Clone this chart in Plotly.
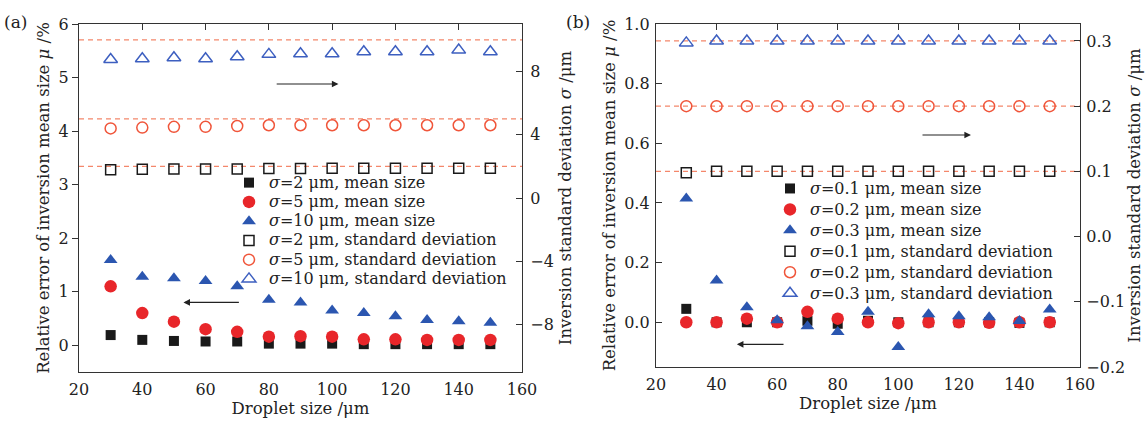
import plotly.graph_objects as go

# ---------------- data ----------------
droplet_size = [30, 40, 50, 60, 70, 80, 90, 100, 110, 120, 130, 140, 150]

# panel (a): sigma = 2, 5, 10 um
a_labels = ["2", "5", "10"]
a_mean_err_s2 = [0.19, 0.10, 0.08, 0.07, 0.07, 0.03, 0.03, 0.03, 0.02, 0.02, 0.02, 0.02, 0.02]
a_mean_err_s5 = [1.10, 0.60, 0.44, 0.30, 0.25, 0.16, 0.17, 0.16, 0.11, 0.11, 0.10, 0.10, 0.10]
a_mean_err_s10 = [1.59, 1.28, 1.25, 1.20, 1.10, 0.85, 0.80, 0.65, 0.60, 0.54, 0.47, 0.45, 0.42]
a_std_s2 = [1.78, 1.82, 1.84, 1.84, 1.84, 1.86, 1.86, 1.88, 1.88, 1.88, 1.88, 1.88, 1.88]
a_std_s5 = [4.40, 4.45, 4.50, 4.50, 4.55, 4.60, 4.60, 4.60, 4.60, 4.60, 4.60, 4.60, 4.60]
a_std_s10 = [8.76, 8.80, 8.87, 8.80, 8.93, 9.08, 9.12, 9.12, 9.25, 9.25, 9.25, 9.35, 9.25]
a_true_sigma = [2, 5, 10]

# panel (b): sigma = 0.1, 0.2, 0.3 um
b_labels = ["0.1", "0.2", "0.3"]
b_mean_err_s01 = [0.045, 0.0, 0.0, 0.0, 0.005, -0.005, 0.005, 0.0, 0.0, 0.0, 0.0, -0.002, 0.0]
b_mean_err_s02 = [0.0, 0.0, 0.012, 0.0, 0.035, 0.012, 0.0, -0.003, 0.0, 0.0, -0.002, 0.0, 0.0]
b_mean_err_s03 = [0.415, 0.14, 0.05, 0.007, -0.013, -0.033, 0.035, -0.083, 0.027, 0.02, 0.017, 0.004, 0.043]
b_std_s01 = [0.098, 0.100, 0.100, 0.100, 0.100, 0.100, 0.100, 0.100, 0.100, 0.100, 0.100, 0.100, 0.100]
b_std_s02 = [0.200, 0.200, 0.200, 0.200, 0.200, 0.200, 0.200, 0.200, 0.200, 0.200, 0.200, 0.200, 0.200]
b_std_s03 = [0.297, 0.300, 0.300, 0.300, 0.300, 0.300, 0.300, 0.300, 0.300, 0.300, 0.300, 0.300, 0.300]
b_true_sigma = [0.1, 0.2, 0.3]

x_ticks = [20, 40, 60, 80, 100, 120, 140, 160]
a_left_ticks = [0, 1, 2, 3, 4, 5, 6]
a_right_ticks = [-8, -4, 0, 4, 8]
b_left_ticks = [0.0, 0.2, 0.4, 0.6, 0.8, 1.0]
b_right_ticks = [-0.2, -0.1, 0.0, 0.1, 0.2, 0.3]

# ---------------- layout geometry (pixels) ----------------
W, H = 1145, 422
ML, MR, MT, MB = 79, 65, 24, 50
PW = W - ML - MR
PH = H - MT - MB


def px_x(p):
    return (p - ML) / PW


def px_y(p):
    return (H - MB - p) / PH


FONT = "DejaVu Serif"
BLACK = "#1a1a1a"
RED = "#e8262a"
BLUE = "#2b56b0"
RED_O = "#f0553a"
BLUE_O = "#3d5fc0"
REFLINE = "#f4876b"
TXT = "#222"
LEG_TXT = 16  # rendered size of legend text


def leg_name(s):
    return f'<span style="font-size:{LEG_TXT}px">{s}</span>'


fig = go.Figure()


def add_panel(xa, ya_l, ya_r, legend, labels, means, stds):
    fills = [("square", BLACK, 10), ("circle", RED, 12.5), ("triangle-up", BLUE, 12)]
    opens = [("square-open", BLACK, 10), ("circle-open", RED_O, 11), ("triangle-up-open", BLUE_O, 12)]
    for lab, vals, (sym, col, sz) in zip(labels, means, fills):
        fig.add_trace(go.Scatter(
            x=droplet_size, y=vals, mode="markers", xaxis=xa, yaxis=ya_l,
            marker=dict(symbol=sym, color=col, size=sz, line=dict(width=0)),
            name=leg_name(f"<i>σ</i>={lab} μm, mean size"), legend=legend))
    for lab, vals, (sym, col, sz) in zip(labels, stds, opens):
        fig.add_trace(go.Scatter(
            x=droplet_size, y=vals, mode="markers", xaxis=xa, yaxis=ya_r,
            marker=dict(symbol=sym, color=col, size=sz, line=dict(width=1.5, color=col)),
            name=leg_name(f"<i>σ</i>={lab} μm, standard deviation"), legend=legend))


add_panel("x", "y", "y2", "legend", a_labels,
          [a_mean_err_s2, a_mean_err_s5, a_mean_err_s10],
          [a_std_s2, a_std_s5, a_std_s10])
add_panel("x2", "y3", "y4", "legend2", b_labels,
          [b_mean_err_s01, b_mean_err_s02, b_mean_err_s03],
          [b_std_s01, b_std_s02, b_std_s03])

tickfont = dict(family=FONT, size=16, color=TXT)
titlefont = dict(family=FONT, size=16.5, color=TXT)

dom_a = [0, px_x(522)]
dom_b = [px_x(656), 1]

common_x = dict(range=[20, 160], tickvals=x_ticks, showgrid=False, zeroline=False,
                showline=True, linecolor="#333", linewidth=1.3, mirror=True,
                ticks="", tickfont=tickfont, title_font=titlefont,
                ticklabelstandoff=3, title_standoff=1)

axline = dict(showgrid=False, zeroline=False, showline=True, linecolor="#333",
              linewidth=1.3, ticklen=6, tickcolor="#333", tickfont=tickfont,
              title_font=titlefont)

fig.update_layout(
    width=W, height=H,
    margin=dict(l=ML, r=MR, t=MT, b=MB, autoexpand=False),
    paper_bgcolor="white", plot_bgcolor="white",
    font=dict(family=FONT, size=15, color=TXT),
    xaxis=dict(domain=dom_a, anchor="y", title_text="Droplet size /μm", **common_x),
    xaxis2=dict(domain=dom_b, anchor="y3", title_text="Droplet size /μm", **common_x),
    # top mirrored ticks
    xaxis3=dict(domain=dom_a, overlaying="x", side="top", range=[20, 160], tickvals=x_ticks,
                ticks="inside", ticklen=6, tickcolor="#333", showticklabels=False,
                showgrid=False, zeroline=False, showline=False, anchor="y"),
    xaxis4=dict(domain=dom_b, overlaying="x2", side="top", range=[20, 160], tickvals=x_ticks,
                ticks="inside", ticklen=6, tickcolor="#333", showticklabels=False,
                showgrid=False, zeroline=False, showline=False, anchor="y3"),
    yaxis=dict(domain=[0, 1], anchor="x", range=[-0.5, 6], tickvals=a_left_ticks,
               ticks="outside",
               title_text="Relative error of inversion mean size <i>μ</i> /%",
               title_standoff=4, **axline),
    yaxis2=dict(domain=[0, 1], anchor="x", overlaying="y", side="right", range=[-11, 11],
                tickvals=a_right_ticks, ticks="inside", ticklabelstandoff=4,
                title_text="Inversion standard deviation <i>σ</i> /μm",
                title_standoff=6, **axline),
    yaxis3=dict(domain=[px_y(367), 1], anchor="x2", range=[-0.15, 1.0], tickvals=b_left_ticks,
                tickformat=".1f", ticks="inside", ticklabelstandoff=2,
                title_text="Relative error of inversion mean size <i>μ</i> /%",
                title_standoff=4, **axline),
    yaxis4=dict(domain=[px_y(367), 1], anchor="x2", overlaying="y3", side="right",
                range=[-0.2, 0.326], tickvals=b_right_ticks, tickformat=".1f",
                ticks="inside", ticklabelstandoff=2,
                title_text="Inversion standard deviation <i>σ</i> /μm",
                title_standoff=4, **axline),
    legend=dict(x=px_x(229), y=px_y(168), xanchor="left", yanchor="top",
                bgcolor="rgba(0,0,0,0)", font=dict(family=FONT, size=12.5, color=TXT),
                tracegroupgap=0, itemwidth=30),
    legend2=dict(x=px_x(770), y=px_y(173), xanchor="left", yanchor="top",
                 bgcolor="rgba(0,0,0,0)", font=dict(family=FONT, size=13.8, color=TXT),
                 tracegroupgap=0, itemwidth=30),
    showlegend=True,
)

# empty traces so the top tick axes are drawn
fig.add_trace(go.Scatter(x=[], y=[], xaxis="x3", yaxis="y", showlegend=False, hoverinfo="skip"))
fig.add_trace(go.Scatter(x=[], y=[], xaxis="x4", yaxis="y3", showlegend=False, hoverinfo="skip"))

# dashed reference lines at the true sigma values
for v in a_true_sigma:
    fig.add_shape(type="line", xref="x domain", yref="y2", x0=0, x1=1, y0=v, y1=v,
                  line=dict(color=REFLINE, width=1.3, dash="5px,4px"), layer="below")
for v in b_true_sigma:
    fig.add_shape(type="line", xref="x2 domain", yref="y4", x0=0, x1=1, y0=v, y1=v,
                  line=dict(color=REFLINE, width=1.3, dash="5px,4px"), layer="below")

# arrows indicating which axis each series uses
arrow = dict(showarrow=True, arrowhead=2, arrowsize=1.2, arrowwidth=1.1,
             arrowcolor=TXT, text="")
fig.add_annotation(x=53, y=0.8, ax=71, ay=0.8, xref="x", yref="y", axref="x", ayref="y", **arrow)
fig.add_annotation(x=102, y=4.88, ax=82, ay=4.88, xref="x", yref="y", axref="x", ayref="y", **arrow)
fig.add_annotation(x=46.7, y=-0.074, ax=62.6, ay=-0.074, xref="x2", yref="y3", axref="x2", ayref="y3", **arrow)
fig.add_annotation(x=124, y=0.628, ax=107.5, ay=0.628, xref="x2", yref="y3", axref="x2", ayref="y3", **arrow)

# panel labels
fig.add_annotation(x=px_x(16), y=px_y(22), xref="paper", yref="paper", text="(a)",
                   xanchor="center", yanchor="middle",
                   showarrow=False, font=dict(family=FONT, size=17, color=TXT))
fig.add_annotation(x=px_x(578), y=px_y(22), xref="paper", yref="paper", text="(b)",
                   xanchor="center", yanchor="middle",
                   showarrow=False, font=dict(family=FONT, size=17, color=TXT))

fig.write_html("out.html", config={"displayModeBar": False},
               post_script="document.body.style.margin='0px';")
